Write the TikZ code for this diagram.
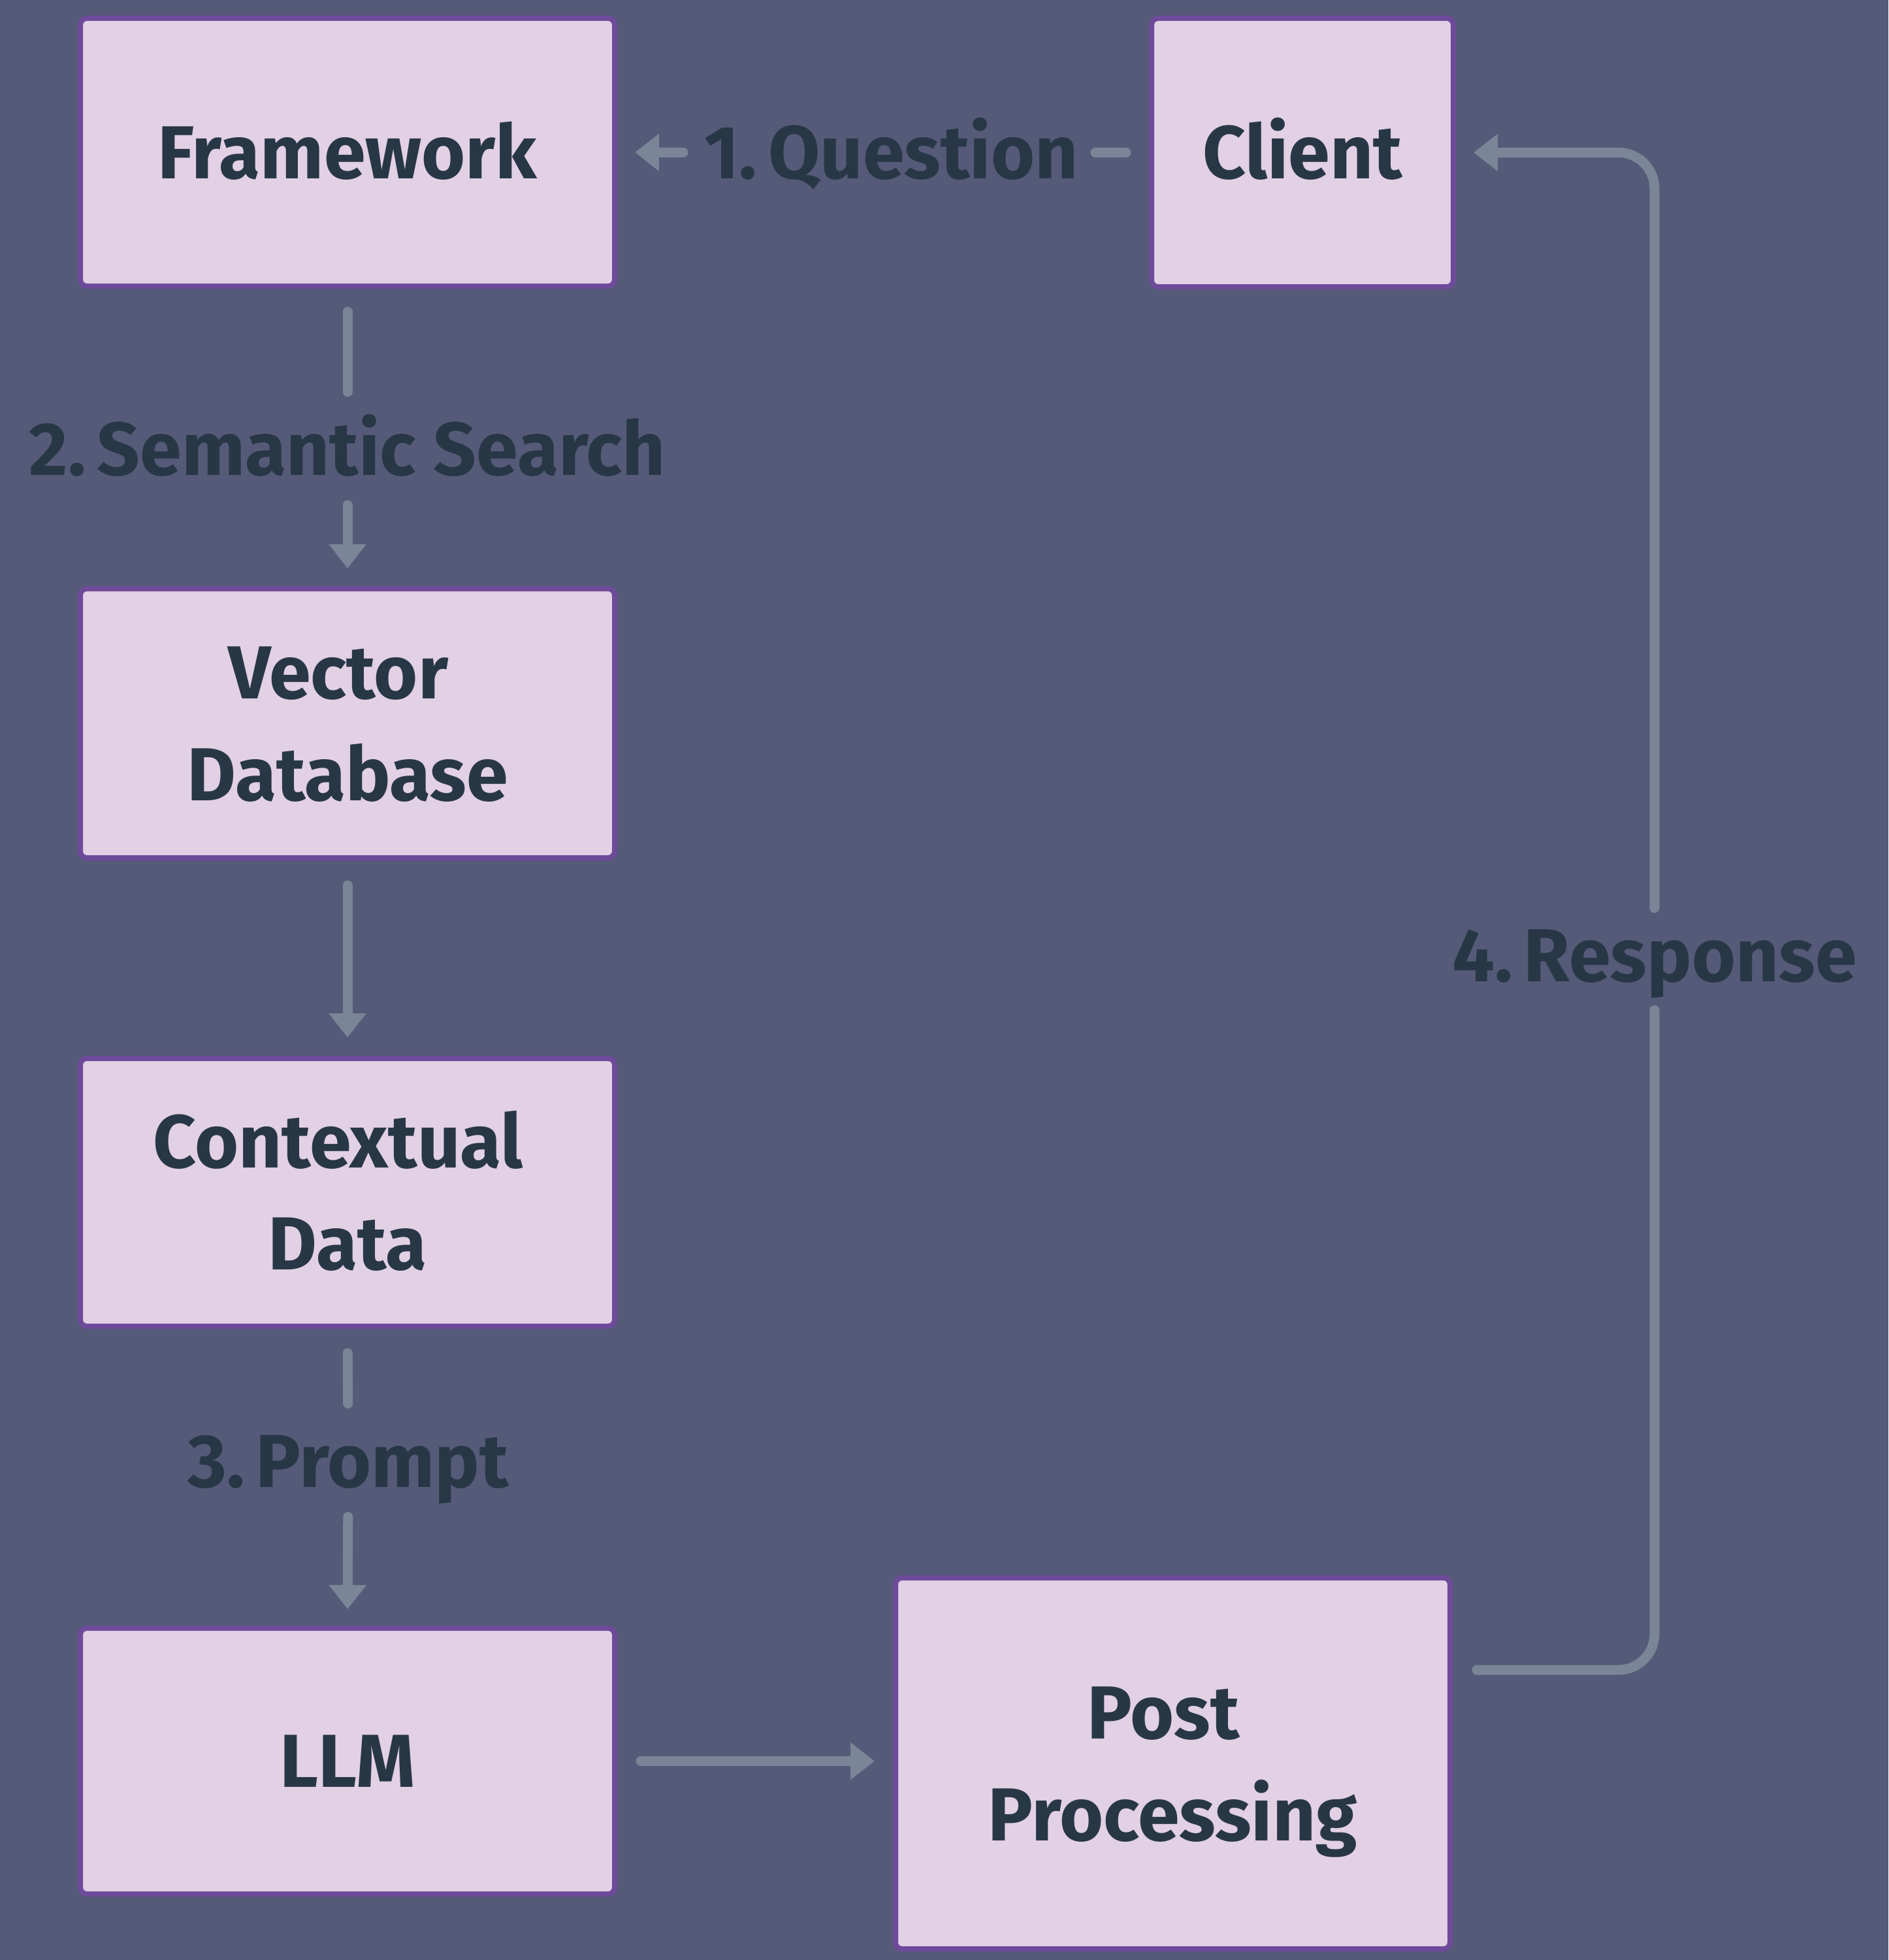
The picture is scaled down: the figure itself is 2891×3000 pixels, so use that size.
\documentclass[tikz,border=0pt]{standalone}
\usepackage{fontspec}
\setmainfont{Fira Sans}
\usetikzlibrary{arrows.meta}
\definecolor{bgc}{HTML}{555A78}
\definecolor{boxfill}{HTML}{E2D0E4}
\definecolor{boxline}{HTML}{6E4A9A}
\definecolor{txt}{HTML}{283746}
\definecolor{conncol}{HTML}{7A8597}
\newcommand{\numgap}{\hspace{17pt}}
\tikzset{
  bigfont/.style={font=\fontsize{115}{156}\selectfont\bfseries},
  stagebox/.style={rectangle, draw=boxline, fill=boxfill, line width=8pt,
    rounded corners=10pt, inner sep=0pt, text=txt, align=center, bigfont,
    text height=80pt, text depth=0pt},
  stagetwo/.style={stagebox, text height=236pt, text depth=0pt},
  steplabel/.style={inner sep=0pt, text=txt, bigfont, text height=80pt, text depth=0pt},
  flow/.style={draw=conncol, line width=15pt, line cap=round},
  flowtip/.style={flow, -{Triangle[length=37pt,width=55pt]}},
}
\begin{document}
\begin{tikzpicture}[x=1pt, y=-1pt]
\fill[bgc] (0,0) rectangle (2891,3000);
\useasboundingbox (0,0) rectangle (2891,3000);

\node[stagebox, minimum width=818pt, minimum height=410pt] (fw) at (532,233) {Framework};
\node[stagebox, minimum width=462pt, minimum height=411pt] (cl) at (1994,233.5) {Client};
\node[stagetwo, minimum width=818pt, minimum height=412pt] (vd) at (532,1107) {Vector\hspace*{0.25em}\\Database};
\node[stagetwo, minimum width=818pt, minimum height=410pt] (cd) at (532,1825) {Contextual\hspace*{0.25em}\\Data};
\node[stagebox, minimum width=818pt, minimum height=407pt] (llm) at (532,2695.5) {LLM};
\node[stagetwo, minimum width=849pt, minimum height=568pt] (pp) at (1795.5,2699) {Post\hspace*{0.25em}\\Processing};

\node[steplabel] (q) at (1364.5,233.5) {1.\numgap Question};
\node[steplabel] (ss) at (532,687) {2.\numgap Semantic Search};
\node[steplabel] (pr) at (533,2236.5) {3.\numgap Prompt};
\node[steplabel] (rs) at (2533,1462) {4.\numgap Response};

\draw[flow, shorten <=35pt, shorten >=26pt] (cl.west) -- (q.east);
\draw[flowtip, shorten <=32pt, shorten >=27pt] (q.west) -- (fw.east);
\draw[flow, shorten <=35pt, shorten >=47pt] (fw.south) -- (ss.north);
\draw[flowtip, shorten <=46pt, shorten >=27pt] (ss.south) -- (vd.north);
\draw[flowtip, shorten <=38pt, shorten >=28pt] (vd.south) -- (cd.north);
\draw[flow, shorten <=37pt, shorten >=48pt] (cd.south) -- (pr.north);
\draw[flowtip, shorten <=45pt, shorten >=25pt] (pr.south) -- (llm.north);
\draw[flowtip, shorten <=36pt, shorten >=28pt] (llm.east) -- (llm.east -| pp.west);
\draw[flow, rounded corners=55pt, shorten <=37pt, shorten >=44pt] ([yshift=143pt]pp.east) -| (rs.south);
\draw[flowtip, rounded corners=55pt, shorten <=32pt, shorten >=27pt] (rs.north) |- (cl.east);
\end{tikzpicture}
\end{document}
